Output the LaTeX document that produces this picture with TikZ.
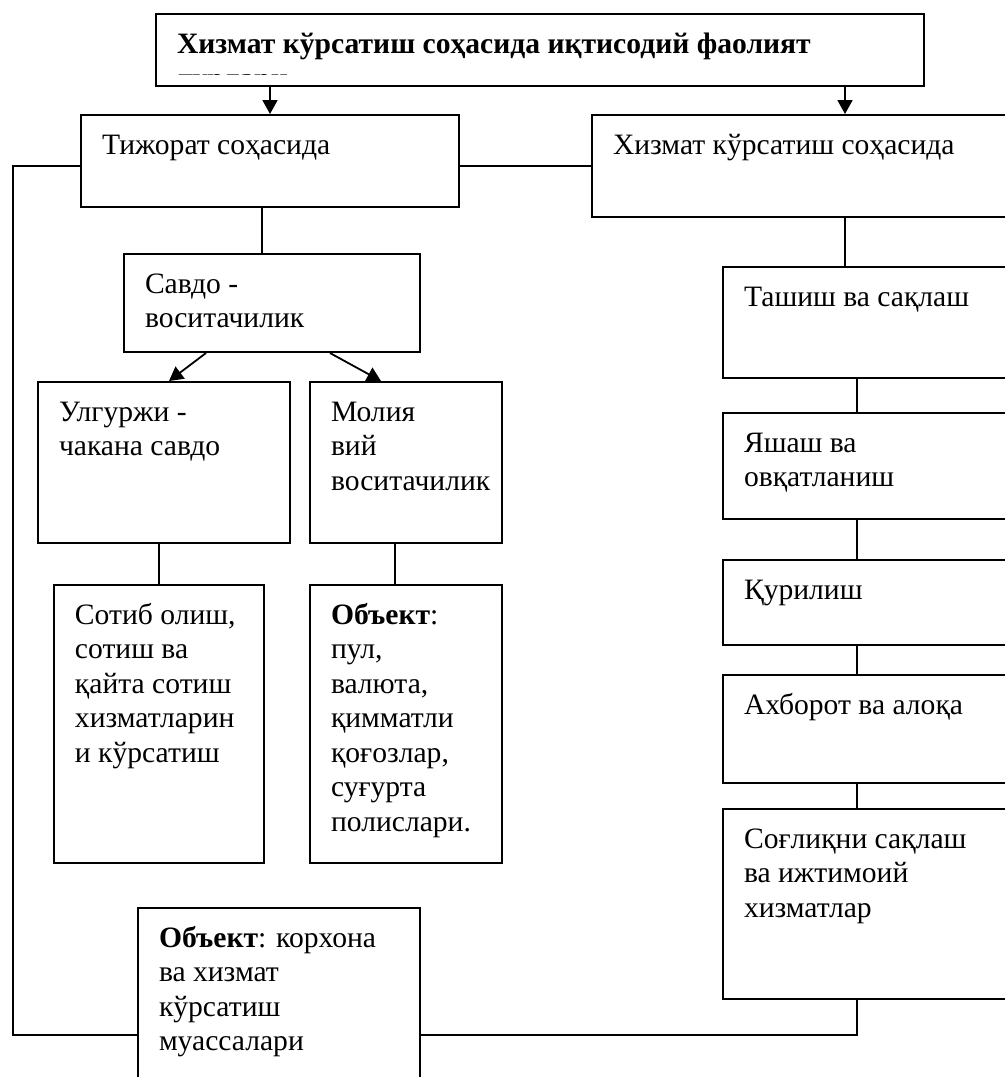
\documentclass[tikz,border=0pt]{standalone}
\usepackage{fontspec}
\setmainfont{Liberation Serif}
\usetikzlibrary{arrows.meta}
\newcommand{\cell}[3]{\parbox[t][#2][t]{#1}{\raggedright\hyphenpenalty=10000\strut#3}}
\begin{document}
\begin{tikzpicture}[x = 0.5pt, y = -0.5pt,
    every node/.style = {font = \fontsize{14.8pt}{17.25pt}\selectfont},
    box/.style = {draw, line width = 1pt, anchor = north west, inner xsep = 10.5pt, inner ysep = 7.5pt, fill = white},
    link/.style = {line width = 0.9pt},
    arr/.style = {line width = 0.9pt, -{Triangle[width = 7.5pt, length = 7pt]}}]
  \useasboundingbox (0,0) rectangle (1005,1077);
  \clip (0,0) rectangle (1005,1077);
  \coordinate (lc) at (13,0);
  \coordinate (rc) at (857,0);
  \node[box] (title) at (155,13) {\cell{363pt}{21pt}{\bfseries Хизмат кўрсатиш соҳасида иқтисодий фаолият}};
  \begin{scope}
    \clip (156,14) rectangle (922,74);
    \node[anchor = base west, inner sep = 0pt, font = \fontsize{14.8pt}{17.25pt}\selectfont\bfseries] (tail) at (178,88.5) {турлари};
  \end{scope}
  \node[box] (tij) at (80,114) {\cell{168pt}{31pt}{Тижорат соҳасида}};
  \node[box] (xiz) at (591,114) {\cell{232pt}{36pt}{Хизмат кўрсатиш соҳасида}};
  \node[box] (savdo) at (123,253) {\cell{127pt}{34pt}{Савдо -\\воситачилик}};
  \node[box] (ulg) at (37,381) {\cell{105pt}{65.5pt}{Улгуржи -\\чакана савдо}};
  \node[box] (mol) at (309,381) {\cell{75pt}{65.5pt}{Молия\\вий\\воситачилик}};
  \node[box] (sotib) at (53,584) {\cell{84pt}{124pt}{Сотиб олиш,\\сотиш ва\\қайта сотиш\\хизматларин\\и кўрсатиш}};
  \node[box] (pul) at (309,584) {\cell{75pt}{124pt}{\textbf{Объект}:\\пул,\\валюта,\\қимматли\\қоғозлар,\\суғурта\\полислари.}};
  \node[box] (korxona) at (137,907) {\cell{120pt}{112pt}{\textbf{Объект}: корхона\\ва хизмат\\кўрсатиш\\муассалари}};
  \node[box] (tashish) at (722,266) {\cell{144pt}{40.5pt}{Ташиш ва сақлаш}};
  \node[box] (yashash) at (722,412) {\cell{144pt}{38pt}{Яшаш ва\\овқатланиш}};
  \node[box] (qurilish) at (722,559) {\cell{144pt}{27.5pt}{Қурилиш}};
  \node[box] (axborot) at (722,674) {\cell{144pt}{39pt}{Ахборот ва алоқа}};
  \node[box] (sogliq) at (722,808) {\cell{144pt}{80pt}{Соғлиқни сақлаш\\ва ижтимоий\\хизматлар}};
  \draw[arr] (tij.north |- title.south) -- (tij.north);
  \draw[arr] (xiz.north |- title.south) -- (xiz.north);
  \draw[link] (xiz.west) -- (xiz.west -| tij.east);
  \draw[link] ([yshift = -2.5pt]tij.west) -- ([yshift = -2.5pt]tij.west -| lc) |- (korxona.west);
  \draw[link] ([xshift = -4pt]tij.south) -- ([xshift = -4pt]tij.south |- savdo.north);
  \draw[arr] ([xshift = -33pt]savdo.south) -- ([xshift = 2.5pt]ulg.north);
  \draw[arr] ([xshift = 29pt]savdo.south) -- ([xshift = -12.5pt]mol.north);
  \draw[link] (sotib.north |- ulg.south) -- (sotib.north);
  \draw[link] ([xshift = -5.5pt]mol.south) -- ([xshift = -5.5pt]pul.north);
  \draw[link] (xiz.south) -- (xiz.south |- tashish.north);
  \draw[link] (tashish.south -| rc) -- (yashash.north -| rc);
  \draw[link] (yashash.south -| rc) -- (qurilish.north -| rc);
  \draw[link] (qurilish.south -| rc) -- (axborot.north -| rc);
  \draw[link] (axborot.south -| rc) -- (sogliq.north -| rc);
  \draw[link] (sogliq.south -| rc) |- (korxona.east);
\end{tikzpicture}
\end{document}
